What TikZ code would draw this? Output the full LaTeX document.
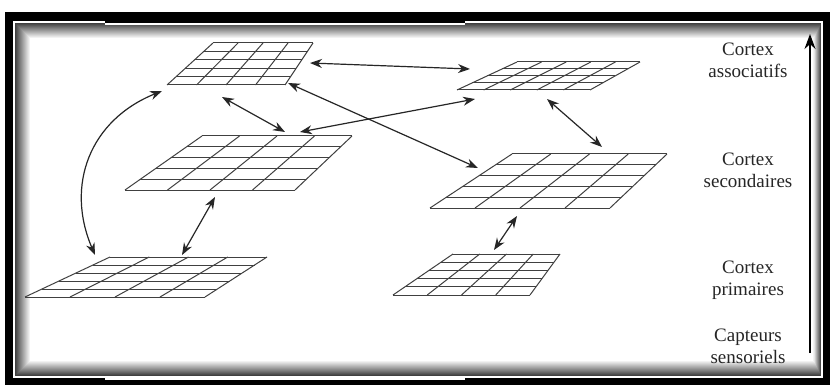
\documentclass[tikz,border=0pt]{standalone}
\usepackage{fontspec}
\setmainfont{Liberation Serif}
\usetikzlibrary{arrows.meta}
\tikzset{
  gridline/.style={draw=black!75, line width=1pt},
  dbl/.style={{Stealth[length=12pt,width=9pt]}-{Stealth[length=12pt,width=9pt]}, line width=1.2pt, black!85},
  lbl/.style={align=center, font=\fontsize{19}{22}\selectfont, text=black!85, inner sep=0pt}
}
\newcommand\mygrid[8]{%
  \foreach \i in {0,...,#8}{\draw[gridline] ({#1+(#4-#1)*\i/#8},{#3+(#6-#3)*\i/#8}) -- ({#2+(#5-#2)*\i/#8},{#3+(#6-#3)*\i/#8});}
  \foreach \j in {0,...,#7}{\draw[gridline] ({#1+(#2-#1)*\j/#7},#3) -- ({#4+(#5-#4)*\j/#7},#6);}
}
\begin{document}
\begin{tikzpicture}[x=1pt,y=-1pt]
\useasboundingbox (0,0) rectangle (830,385);
% frame
\fill[white] (0,0) rectangle (830,385);
\fill[black] (5,12) rectangle (830,385);
\fill[white] (13,21) rectangle (823,378);
\foreach \k in {0,...,14}{
  \fill[black!\the\numexpr 75-5*\k\relax] ({15+\k},{23+\k}) rectangle ({821-\k*0.5},{376-\k});
}
\fill[white] (30,38) rectangle (813,361);
\fill[black] (105,12) rectangle (465,23);
\fill[white] (105,23) rectangle (465,25);
\fill[black] (105,380) rectangle (465,385);
\fill[white] (105,378) rectangle (465,380);
% grids
\mygrid{213}{313}{43}{167}{285}{85}{4}{5}
\mygrid{517}{640}{62}{457}{590}{90}{5}{4}
\mygrid{202}{352}{136}{125}{295}{190}{4}{5}
\mygrid{512}{667}{154}{430}{610}{208}{4}{5}
\mygrid{110}{267}{257}{25}{205}{297}{4}{5}
\mygrid{453}{560}{254}{393}{530}{295}{4}{5}
% arrow end points
\coordinate (a1) at (310,63);  \coordinate (b1) at (470,69);
\coordinate (a2) at (288,83);  \coordinate (b2) at (478,168);
\coordinate (a3) at (222,97);  \coordinate (b3) at (285,132);
\coordinate (a4) at (300,132); \coordinate (b4) at (475,99);
\coordinate (a5) at (547,99);  \coordinate (b5) at (602,147);
\coordinate (a6) at (215,197); \coordinate (b6) at (182,255);
\coordinate (a7) at (162,91);  \coordinate (b7) at (95,255);
\coordinate (a8) at (517,216); \coordinate (b8) at (494,250);
\draw[dbl] (a1) -- (b1);
\draw[dbl] (a2) -- (b2);
\draw[dbl] (a3) -- (b3);
\draw[dbl] (a4) -- (b4);
\draw[dbl] (a5) -- (b5);
\draw[dbl] (a6) -- (b6);
\draw[dbl] (a7) .. controls (90,120) and (65,185) .. (b7);
\draw[dbl] (a8) -- (b8);
% level arrow
\coordinate (lvb) at (810,353);
\coordinate (lvt) at (810,34);
\draw[-{Stealth[length=15pt,width=11pt]}, line width=1.5pt] (lvb) -- (lvt);
% labels
\node[lbl] (l1) at (748,60) {Cortex\\associatifs};
\node[lbl] (l2) at (748,170) {Cortex\\secondaires};
\node[lbl] (l3) at (748,280) {Cortex\\primaires};
\node[lbl] (l4) at (748,346) {Capteurs\\sensoriels};
\end{tikzpicture}
\end{document}
